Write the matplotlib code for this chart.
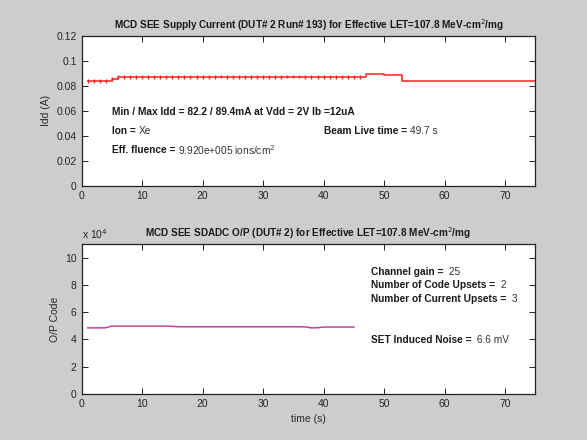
import numpy as np
import matplotlib
matplotlib.use("Agg")
import matplotlib.pyplot as plt
from matplotlib.ticker import FuncFormatter

plt.rcParams['font.family'] = ['Liberation Sans', 'DejaVu Sans']

########## supply current data (per second)
t_idd = [1, 2, 3, 4, 5, 6, 7, 8, 9, 10, 11, 12, 13, 14, 15, 16, 17, 18, 19, 20,
         21, 22, 23, 24, 25, 26, 27, 28, 29, 30, 31, 32, 33, 34, 35, 36, 37, 38, 39, 40,
         41, 42, 43, 44, 45, 46, 47, 48, 49, 50, 51, 52, 53, 60, 75]
idd = [0.0835, 0.0835, 0.0835, 0.0836, 0.0855, 0.0869, 0.0869, 0.0869, 0.0868, 0.0869,
       0.0869, 0.0869, 0.0869, 0.0870, 0.0870, 0.0870, 0.0871, 0.0871, 0.0871, 0.0871,
       0.0871, 0.0872, 0.0873, 0.0872, 0.0872, 0.0872, 0.0872, 0.0872, 0.0872, 0.0872,
       0.0872, 0.0872, 0.0872, 0.0873, 0.0873, 0.0873, 0.0872, 0.0872, 0.0872, 0.0872,
       0.0872, 0.0872, 0.0872, 0.0872, 0.0872, 0.0872, 0.0890, 0.0890, 0.0890, 0.0889,
       0.0889, 0.0889, 0.0838, 0.0838, 0.0838]
n_err = 46  # error marks drawn on first 46 samples
idd_err = 0.0015

########## ADC output data
t_adc = [1, 2, 3, 4, 5, 6, 8, 10, 12, 14, 15, 16, 18, 20, 25, 30, 35, 37, 38, 39, 40, 42, 45]
adc = [48500, 48500, 48500, 48600, 49800, 49800, 49800, 49800, 49800, 49800, 49600, 49300,
       49300, 49300, 49300, 49300, 49300, 49200, 48500, 48600, 49100, 49100, 49100]

fig = plt.figure(figsize=(5.87, 4.40), dpi=100)
fig.patch.set_facecolor('#cdcdcd')

ax1 = fig.add_axes([0.139, 0.578, 0.773, 0.341])
ax2 = fig.add_axes([0.139, 0.1045, 0.773, 0.341])

for ax in (ax1, ax2):
    ax.set_facecolor('white')
    ax.tick_params(direction='in', top=True, right=True, labelsize=7.5, length=4, width=0.6,
                   labelcolor='#262626')
    for s in ax.spines.values():
        s.set_linewidth(0.9)
        s.set_color('#222222')
    ax.set_xlim(0, 75)
    ax.set_xticks(np.arange(0, 71, 10))

########## top plot
ax1.step(t_idd, idd, where='post', color='#ff3030', lw=1.2)
ax1.errorbar(t_idd[:n_err], idd[:n_err], yerr=idd_err, fmt='none', ecolor='#ff2020', elinewidth=1.0)
ax1.set_ylim(0, 0.12)
ax1.set_yticks(np.arange(0, 0.121, 0.02))
ax1.yaxis.set_major_formatter(FuncFormatter(lambda v, p: '0' if v == 0 else ('%g' % round(v, 3))))
ax1.set_ylabel('Idd (A)', fontsize=7.5, color='#262626')
ax1.set_title('MCD SEE Supply Current (DUT# 2 Run# 193) for Effective LET=107.8 MeV-cm$^2$/mg',
              fontsize=7.2, fontweight='bold', pad=5, color='#1a1a1a')

fs = 7.3
ax1.text(5, 0.059, 'Min / Max Idd = 82.2 / 89.4mA at Vdd = 2V Ib =12uA', fontsize=fs,
         fontweight='bold', va='center', color='#1a1a1a')
t1 = ax1.text(5, 0.044, 'Ion = ', fontsize=fs, fontweight='bold', va='center', color='#1a1a1a')
ax1.annotate('Xe', xy=(1, 0.5), xycoords=t1, va='center', fontsize=fs, color='#333333')
t2 = ax1.text(40, 0.044, 'Beam Live time = ', fontsize=fs, fontweight='bold', va='center', color='#1a1a1a')
ax1.annotate('49.7 s', xy=(1, 0.5), xycoords=t2, va='center', fontsize=fs, color='#333333')
t3 = ax1.text(5, 0.0285, 'Eff. fluence = ', fontsize=fs, fontweight='bold', va='center', color='#1a1a1a')
ax1.annotate('9.920e+005 ions/cm$^2$', xy=(1, 0.5), xycoords=t3, va='center', fontsize=fs, color='#333333')

########## bottom plot
ax2.plot(t_adc, adc, color='#c8409a', lw=1.1)
ax2.set_ylim(0, 110000)
ax2.set_yticks(np.arange(0, 100001, 20000))
ax2.yaxis.set_major_formatter(FuncFormatter(lambda v, p: '%d' % round(v / 1e4)))
ax2.text(0, 1.02, 'x 10$^4$', transform=ax2.transAxes, fontsize=7.5, va='bottom', ha='left',
         color='#262626')
ax2.set_ylabel('O/P Code', fontsize=7.5, color='#262626')
ax2.set_xlabel('time (s)', fontsize=7.5, color='#262626')
ax2.set_title('MCD SEE SDADC O/P (DUT# 2) for Effective LET=107.8 MeV-cm$^2$/mg',
              fontsize=7.2, fontweight='bold', pad=5, color='#1a1a1a')

labels = [('Channel gain = ', ' 25', 89800), ('Number of Code Upsets = ', ' 2', 79900),
          ('Number of Current Upsets = ', ' 3', 69400), ('SET Induced Noise = ', ' 6.6 mV', 39800)]
for lab, val, yv in labels:
    tt = ax2.text(47.8, yv, lab, fontsize=fs, fontweight='bold', va='center', color='#1a1a1a')
    ax2.annotate(val, xy=(1, 0.5), xycoords=tt, va='center', fontsize=fs, color='#333333')

fig.savefig('out.png', dpi=100, facecolor=fig.get_facecolor())
